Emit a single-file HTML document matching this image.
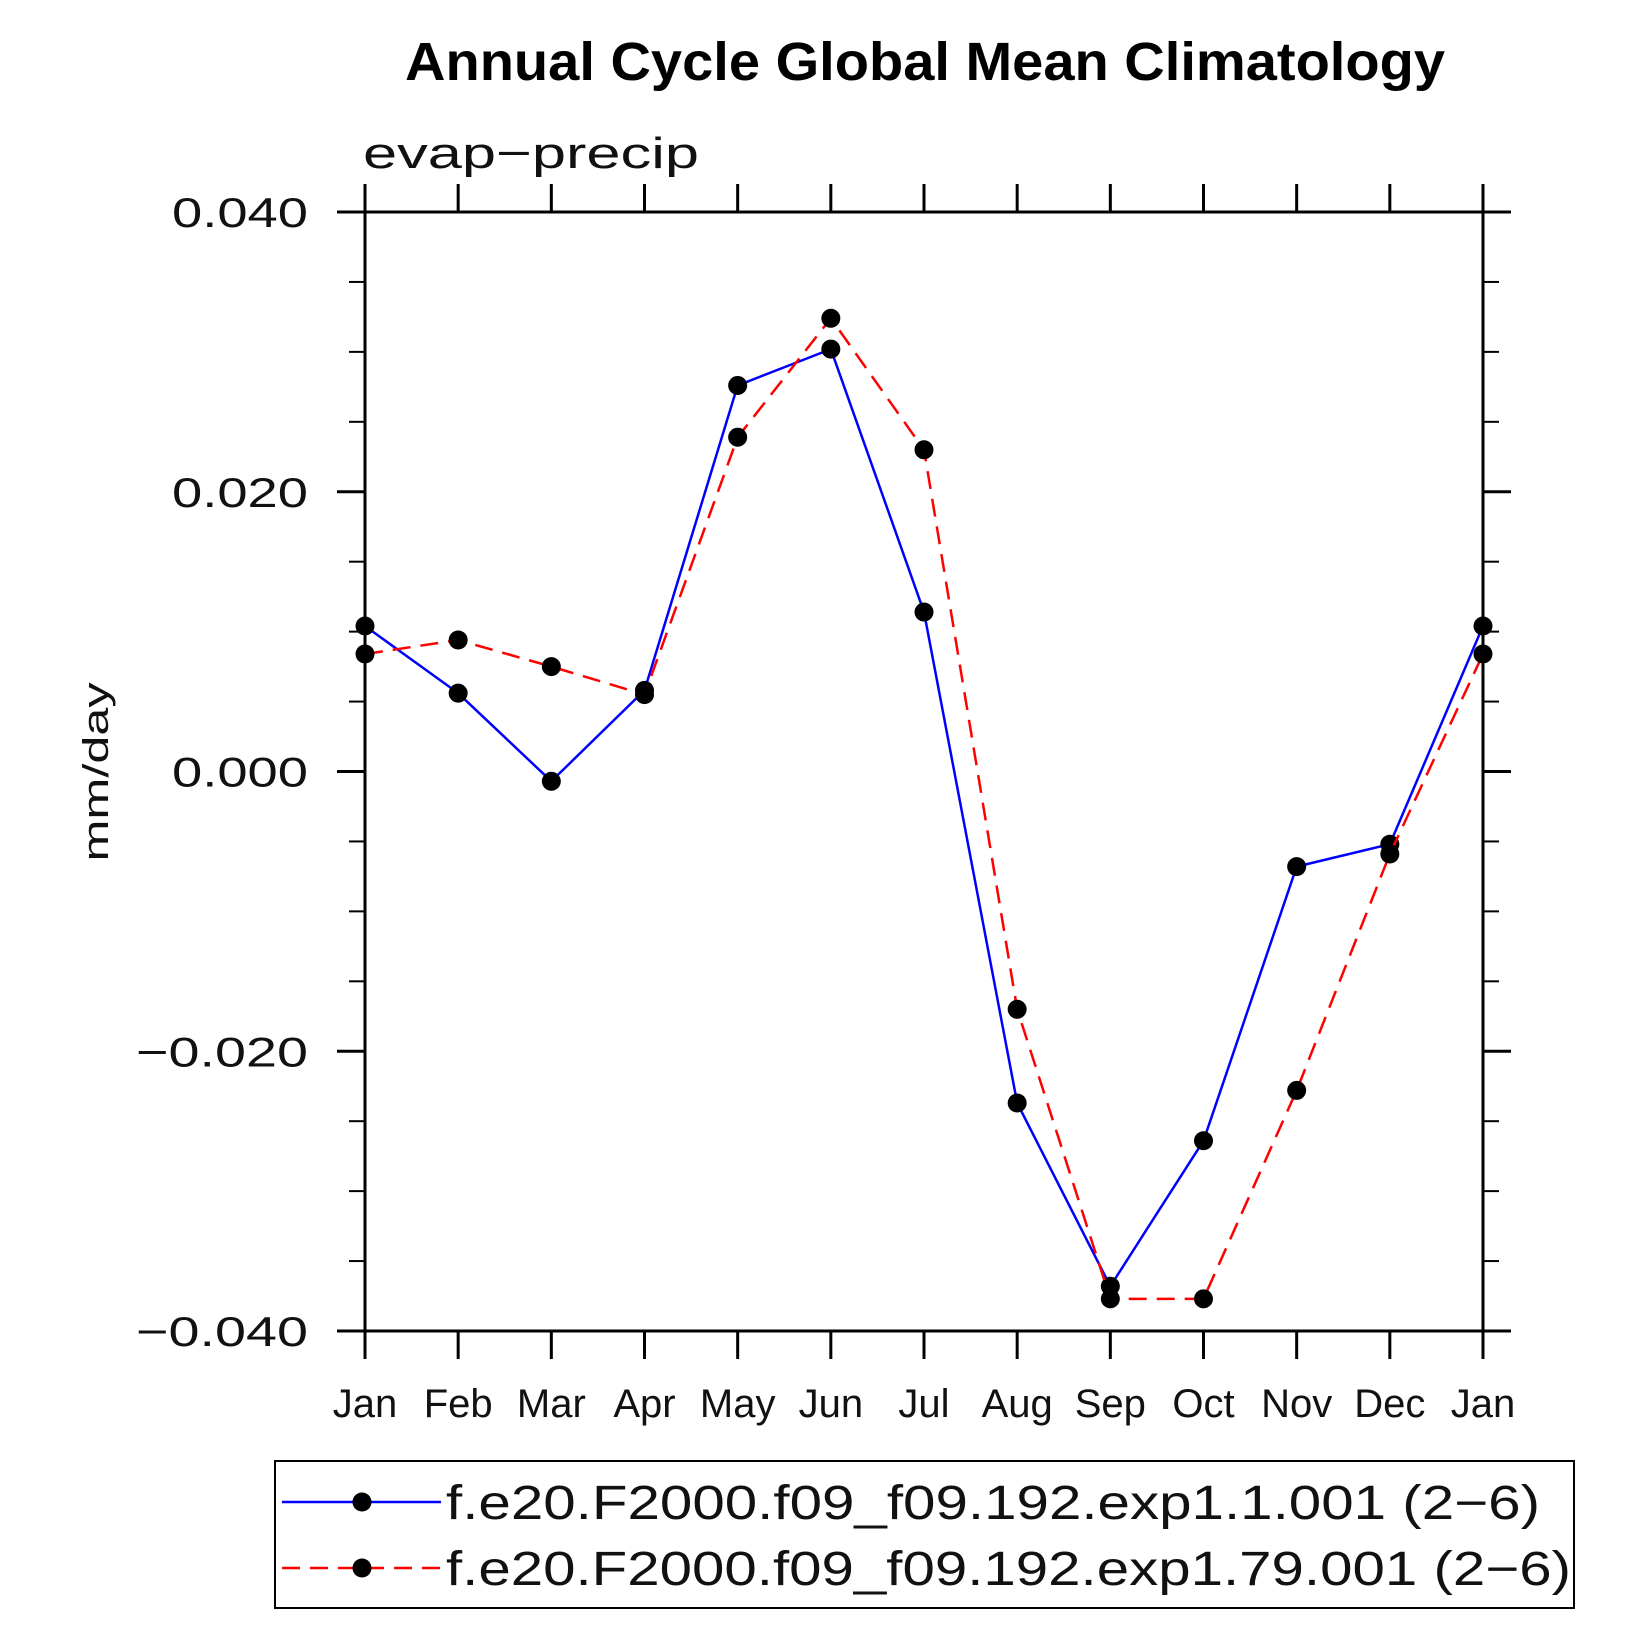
<!DOCTYPE html>
<html><head><meta charset="utf-8"><style>
html,body{margin:0;padding:0;background:#fff;}
svg{display:block;font-family:"Liberation Sans",sans-serif;}
</style></head><body>
<svg id="chart" width="1647" height="1647" viewBox="0 0 1647 1647" xmlns="http://www.w3.org/2000/svg">
<text x="405" y="80" font-size="54" font-weight="bold" textLength="1040" lengthAdjust="spacingAndGlyphs">Annual Cycle Global Mean Climatology</text>
<text x="363" y="168" font-size="44" fill="#111" textLength="336" lengthAdjust="spacingAndGlyphs">evap−precip</text>
<text transform="translate(108,772) rotate(-90)" text-anchor="middle" font-size="36" fill="#111" textLength="179" lengthAdjust="spacingAndGlyphs">mm/day</text>
<g id="axes"></g>
<g id="series"></g>
<g>
<rect x="275" y="1461" width="1299" height="147" fill="none" stroke="#000" stroke-width="2"/>
<line x1="282" y1="1502" x2="441" y2="1502" stroke="#0000ff" stroke-width="2.5"/>
<circle cx="362" cy="1502" r="9.5" fill="#000"/>
<text x="446" y="1519" font-size="48" fill="#111" textLength="1094" lengthAdjust="spacingAndGlyphs">f.e20.F2000.f09_f09.192.exp1.1.001 (2−6)</text>
<line x1="282" y1="1568" x2="441" y2="1568" stroke="#ff0000" stroke-width="2.5" stroke-dasharray="18,10"/>
<circle cx="362" cy="1568" r="9.5" fill="#000"/>
<text x="446" y="1585" font-size="48" fill="#111" textLength="1125" lengthAdjust="spacingAndGlyphs">f.e20.F2000.f09_f09.192.exp1.79.001 (2−6)</text>
</g>
</svg>
<script>
const months = ["Jan","Feb","Mar","Apr","May","Jun","Jul","Aug","Sep","Oct","Nov","Dec","Jan"];
const exp1Values = [0.0104,0.0056,-0.0007,0.0058,0.0276,0.0302,0.0114,-0.0237,-0.0368,-0.0264,-0.0068,-0.0052,0.0104];
const exp79Values = [0.0084,0.0094,0.0075,0.0055,0.0239,0.0324,0.0230,-0.0170,-0.0377,-0.0377,-0.0228,-0.0059,0.0084];
const yTickValues = [0.04,0.02,0,-0.02,-0.04];
const yTickLabels = ["0.040","0.020","0.000","−0.020","−0.040"];

const NS="http://www.w3.org/2000/svg";
const L=365,R=1483,T=212,B=1331,yMin=-0.04,yMax=0.04;
const xs=i=>L+(R-L)*i/(months.length-1);
const ys=v=>B-(v-yMin)/(yMax-yMin)*(B-T);
function mk(tag,attrs,parent){const e=document.createElementNS(NS,tag);for(const k in attrs)e.setAttribute(k,attrs[k]);parent.appendChild(e);return e;}
const axes=document.getElementById('axes');
const ser=document.getElementById('series');
const frame=mk('rect',{x:L,y:T,width:R-L,height:B-T,fill:'none',stroke:'#000','stroke-width':3},axes);


months.forEach((m,i)=>{
  const x=xs(i);
  const t1=mk('line',{x1:x,y1:B,x2:x,y2:B+28,stroke:'#000','stroke-width':3},axes);
  
  
  const t2=mk('line',{x1:x,y1:T,x2:x,y2:T-28,stroke:'#000','stroke-width':3},axes);
  
  
  const lb=mk('text',{x:x,y:1417,'text-anchor':'middle','font-size':40,fill:'#111'},axes);
  lb.textContent=m;
  
  
});
for(let k=0;k<=16;k++){
  const v=yMin+k*0.005, y=ys(v), major=k%4===0;
  const len=major?28:16;
  const a=mk('line',{x1:L-len,y1:y,x2:L,y2:y,stroke:'#000','stroke-width':major?3:2},axes);
  
  
  const b=mk('line',{x1:R,y1:y,x2:R+len,y2:y,stroke:'#000','stroke-width':major?3:2},axes);
  
  
}
yTickValues.forEach((v,i)=>{
  const lbl=yTickLabels[i];
  const t=mk('text',{x:308,y:ys(v)+15,'text-anchor':'end','font-size':42,fill:'#111',lengthAdjust:'spacingAndGlyphs',textLength:lbl.length>5?172:136},axes);
  t.textContent=lbl;
  
  
});
function series(vals,color,dash,name){
  const p=mk('polyline',{points:vals.map((v,i)=>xs(i)+','+ys(v)).join(' '),fill:'none',stroke:color,'stroke-width':2.5},ser);
  if(dash)p.setAttribute('stroke-dasharray',dash);
  
  
  vals.forEach((v,i)=>{
    const c=mk('circle',{cx:xs(i),cy:ys(v),r:9.5,fill:'#000'},ser);
    
    
  });
}
series(exp1Values,'#0000ff',null,'exp1');
series(exp79Values,'#ff0000','18,10','exp79');
</script>
</body></html>
